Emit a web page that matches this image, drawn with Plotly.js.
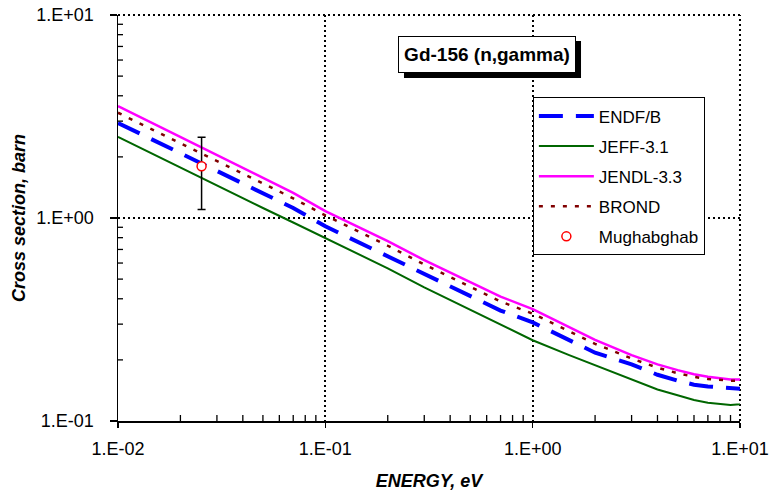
<!DOCTYPE html>
<html>
<head>
<meta charset="utf-8">
<script src="https://cdn.plot.ly/plotly-3.0.1.min.js"></script>
<style>html,body{margin:0;padding:0;background:#fff;}#chart{width:778px;height:493px;}</style>
</head>
<body>
<div id="chart"></div>
<script>
// Energy grid (eV)
var energy = [0.01, 0.02, 0.03, 0.05, 0.07, 0.1, 0.2, 0.3, 0.5, 0.7, 1, 1.5, 2, 3, 4, 5, 6, 7, 8, 9, 10, 10.5];
// Cross sections (barn)
var endfb = [2.94, 2.09, 1.71, 1.33, 1.12, 0.91, 0.65, 0.53, 0.412, 0.35, 0.306, 0.250, 0.217, 0.190, 0.169, 0.158, 0.151, 0.148, 0.146, 0.145, 0.144, 0.144];
var jeff = [2.51, 1.77, 1.44, 1.12, 0.95, 0.796, 0.565, 0.455, 0.352, 0.297, 0.250, 0.211, 0.188, 0.160, 0.143, 0.134, 0.127, 0.123, 0.121, 0.120, 0.121, 0.122];
var jendl = [3.56, 2.50, 2.04, 1.58, 1.33, 1.08, 0.77, 0.62, 0.485, 0.41, 0.356, 0.290, 0.251, 0.211, 0.190, 0.178, 0.170, 0.165, 0.162, 0.160, 0.160, 0.161];
var brond = [3.30, 2.33, 1.90, 1.48, 1.25, 1.03, 0.73, 0.59, 0.458, 0.388, 0.338, 0.278, 0.240, 0.203, 0.183, 0.172, 0.165, 0.161, 0.159, 0.158, 0.158, 0.158];
// Measured point
var mughX = [0.0253];
var mughY = [1.8];
var mughErr = [0.7];
// Tick labels
var xTickVals = [0.01, 0.1, 1, 10];
var xTickText = ["1.E-02", "1.E-01", "1.E+00", "1.E+01"];
var yTickVals = [0.1, 1, 10];
var yTickText = ["1.E-01", "1.E+00", "1.E+01"];

var FONT = "Arial, 'Liberation Sans', sans-serif";

function minorVals(decades) {
  var out = [];
  for (var i = 0; i < decades.length - 1; i++) {
    for (var m = 2; m <= 9; m++) out.push(decades[i] * m);
  }
  return out;
}

var traces = [
  {x: energy, y: endfb, name: "ENDF/B", legendgroup: "a", mode: "lines",
   line: {color: "#0000FF", width: 4, dash: "24px,13px"}},
  {x: energy, y: jeff, name: "JEFF-3.1", legendgroup: "b", mode: "lines",
   line: {color: "#006600", width: 2}},
  {x: energy, y: jendl, name: "JENDL-3.3", legendgroup: "c", mode: "lines",
   line: {color: "#FF00FF", width: 2.5}},
  {x: energy, y: brond, name: "BROND", legendgroup: "d", mode: "lines",
   line: {color: "#800000", width: 2.5, dash: "4px,8px"}},
  {x: mughX, y: mughY, name: "Mughabghab", legendgroup: "e", mode: "markers",
   marker: {symbol: "circle", size: 9, color: "#FFFFFF", line: {color: "#FF0000", width: 1.5}},
   error_y: {type: "data", array: mughErr, visible: true, color: "#000000", thickness: 1.5, width: 4}}
];

var gridLine = {color: "#000000", width: 2, dash: "2px,3px"};
var tickLine = {color: "#000000", width: 1.3};

var shapes = [
  // dotted grid lines along the top and right edges of the plot area
  {type: "line", xref: "paper", yref: "paper", x0: 0, x1: 1, y0: 1, y1: 1, line: gridLine, layer: "below"},
  {type: "line", xref: "paper", yref: "paper", x0: 1, x1: 1, y0: 0, y1: 1, line: gridLine, layer: "below"},
  // drop shadow of the title box
  {type: "rect", xref: "paper", yref: "paper", x0: 0.4598, x1: 0.7444, y0: 0.8448, y1: 0.9360,
   fillcolor: "#000000", line: {width: 0}, layer: "above"}
];
// inside minor ticks (Excel style) on the log axes
minorVals(xTickVals).forEach(function (v) {
  shapes.push({type: "line", xref: "x", yref: "paper", ysizemode: "pixel", yanchor: 0,
    x0: v, x1: v, y0: 0, y1: 6, line: tickLine, layer: "above"});
});
minorVals(yTickVals).forEach(function (v) {
  shapes.push({type: "line", xref: "paper", yref: "y", xsizemode: "pixel", xanchor: 0,
    y0: v, y1: v, x0: 0, x1: 5, line: tickLine, layer: "above"});
});

var layout = {
  width: 778, height: 493,
  margin: {l: 118, r: 38, t: 15, b: 72},
  paper_bgcolor: "#FFFFFF", plot_bgcolor: "#FFFFFF",
  font: {family: FONT, size: 17, color: "#000000"},
  showlegend: true,
  legend: {x: 0.667, y: 0.797, xanchor: "left", yanchor: "top",
    bgcolor: "#FFFFFF", bordercolor: "#000000", borderwidth: 1,
    font: {family: FONT, size: 17, color: "#000000"},
    tracegroupgap: 5, itemwidth: 55},
  xaxis: {
    type: "log", range: [-2, 1], showline: true, linecolor: "#000000", linewidth: 1.5, mirror: false,
    tickmode: "array", tickvals: xTickVals, ticktext: xTickText, ticks: "outside", ticklen: 5, tickcolor: "#000000", tickwidth: 1.5,
    ticklabelstandoff: 6, tickfont: {family: FONT, size: 18},
    showgrid: true, gridcolor: "#000000", gridwidth: 2, griddash: "2px,3px",
    zeroline: false,
    title: {text: "<b><i>ENERGY, eV</i></b>", font: {family: FONT, size: 18}, standoff: 16}
  },
  yaxis: {
    type: "log", range: [-1, 1], showline: true, linecolor: "#000000", linewidth: 1.5, mirror: false,
    tickmode: "array", tickvals: yTickVals, ticktext: yTickText, ticks: "outside", ticklen: 7, tickcolor: "#000000", tickwidth: 1.5,
    ticklabelstandoff: 12, tickfont: {family: FONT, size: 18},
    showgrid: true, gridcolor: "#000000", gridwidth: 2, griddash: "2px,3px",
    zeroline: false,
    title: {text: "<b><i>Cross section, barn</i></b>", font: {family: FONT, size: 18}, standoff: 6}
  },
  shapes: shapes,
  annotations: [
    {xref: "paper", yref: "paper", x: 0.594, y: 0.9027, xanchor: "center", yanchor: "middle",
     text: "<b>Gd-156 (n,gamma)</b>", showarrow: false, font: {family: FONT, size: 19, color: "#000000"},
     bgcolor: "#FFFFFF", bordercolor: "#000000", borderwidth: 1, width: 172, height: 31, borderpad: 2}
  ]
};

Plotly.newPlot("chart", traces, layout, {displayModeBar: false, staticPlot: true});
</script>
</body>
</html>
